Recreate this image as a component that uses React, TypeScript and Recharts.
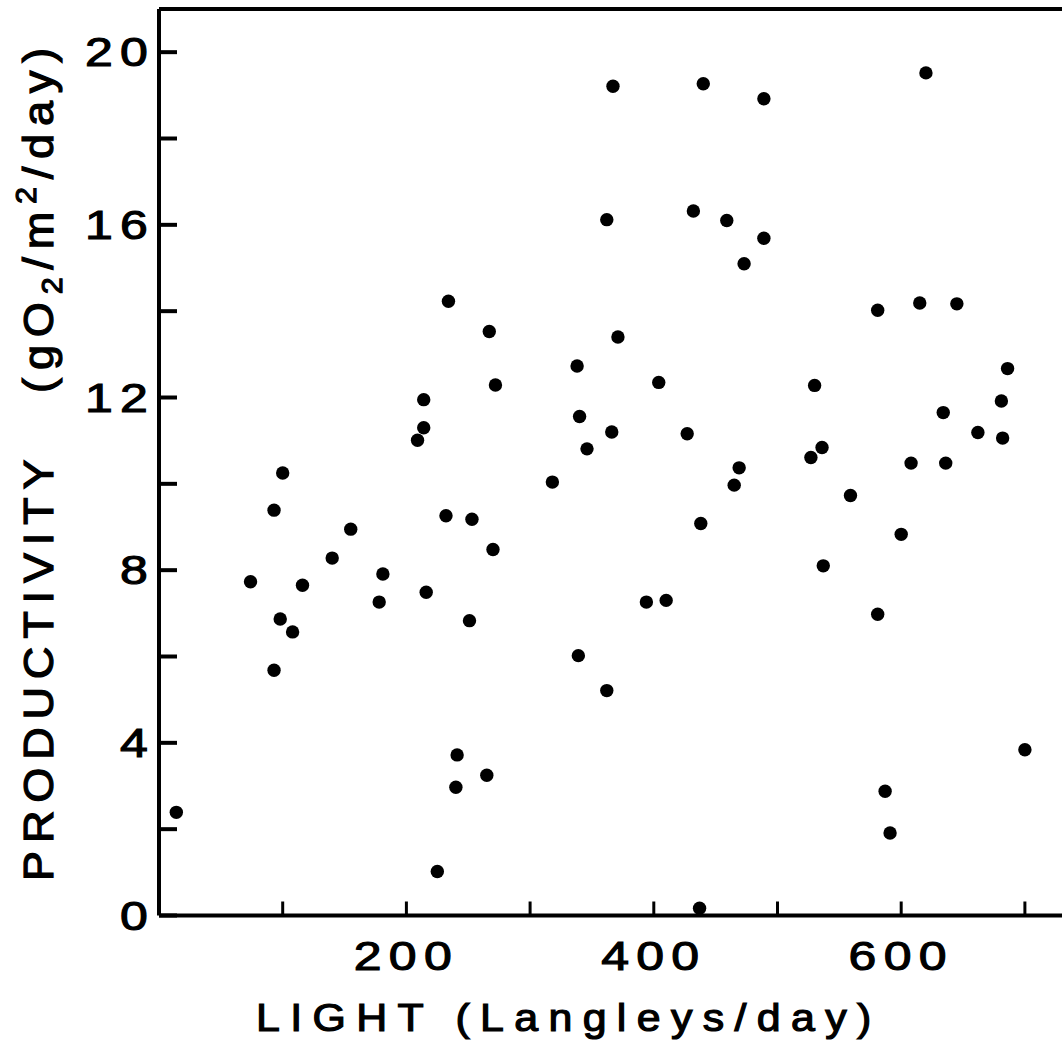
import React from 'react';
import { ScatterChart, Scatter, XAxis, YAxis, ReferenceLine } from 'recharts';

const lightValues = [
  14, 74, 93, 93, 98, 100, 108, 116, 140, 155, 178, 181, 209, 214, 214, 216, 225, 232,
  234, 240, 241, 251, 253, 265, 267, 270, 272, 318, 338, 339, 340, 346, 362, 362, 366, 367,
  371, 394, 404, 410, 427, 432, 437, 438, 440, 459, 465, 469, 473, 489, 489, 527, 530, 536,
  537, 559, 581, 581, 587, 591, 600, 608, 615, 620, 634, 636, 645, 662, 681, 682, 686, 700,
];
const productivityValues = [
  2.39, 7.73, 9.39, 5.68, 6.87, 10.25, 6.57, 7.65, 8.28, 8.95, 7.26, 7.91, 11.01, 11.3, 11.95, 7.49, 1.02, 9.26,
  14.23, 2.97, 3.72, 6.83, 9.18, 3.25, 13.53, 8.48, 12.29, 10.04, 12.73, 6.02, 11.56, 10.81, 16.12, 5.21, 11.2, 19.21,
  13.4, 7.26, 12.35, 7.3, 11.16, 16.32, 0.17, 9.08, 19.27, 16.1, 9.97, 10.37, 15.1, 18.92, 15.69, 10.61, 12.28, 10.84,
  8.1, 9.73, 14.02, 6.98, 2.88, 1.91, 8.83, 10.48, 14.19, 19.52, 11.65, 10.48, 14.17, 11.19, 11.92, 11.06, 12.67, 3.84,
];
const xTicks = [100, 200, 300, 400, 500, 600, 700];
const xLabelTicks = [200, 400, 600];
const yTicks = [0, 2, 4, 6, 8, 10, 12, 14, 16, 18, 20];
const yLabelTicks = [0, 4, 8, 12, 16, 20];
const xTitle = 'LIGHT (Langleys/day)';

const data = lightValues.map((x, i) => ({ x, y: productivityValues[i] }));

const FONT = '"Liberation Sans", Arial, Helvetica, sans-serif';

const YTick = (props: any) => {
  const { x, y, payload } = props;
  const v = payload.value;
  return (
    <g>
      <line x1={x} y1={y} x2={x + 18} y2={y} stroke="#000" strokeWidth={4} />
      {yLabelTicks.includes(v) && (
        <text
          x={0}
          y={0}
          transform={`translate(${x - 4}, ${y + 14.3}) scale(1.25, 1)`}
          textAnchor="end"
          fontFamily={FONT}
          fontSize={40}
          letterSpacing={5.8}
          fill="#000"
          stroke="#000"
          strokeWidth={1.1}
        >
          {v}
        </text>
      )}
    </g>
  );
};

const XTick = (props: any) => {
  const { x, y, payload } = props;
  const v = payload.value;
  return (
    <g>
      <line x1={x} y1={y} x2={x} y2={y - 14} stroke="#000" strokeWidth={3} />
      {xLabelTicks.includes(v) && (
        <text
          x={0}
          y={0}
          transform={`translate(${x}, ${y + 54}) scale(1.25, 1)`}
          textAnchor="middle"
          fontFamily={FONT}
          fontSize={40}
          letterSpacing={5.8}
          fill="#000"
          stroke="#000"
          strokeWidth={1.1}
        >
          {v}
        </text>
      )}
    </g>
  );
};

const XTitle = () => (
  <text
    x={0}
    y={0}
    transform="translate(256, 1031) scale(1.1, 1)"
    textAnchor="start"
    fontFamily={FONT}
    fontSize={39}
    letterSpacing={9.4}
    fill="#000"
    stroke="#000"
    strokeWidth={1.2}
  >
    {xTitle}
  </text>
);

const YTitle = () => (
  <text
    x={0}
    y={0}
    transform="translate(53, 881) rotate(-90) scale(1.05, 1)"
    textAnchor="start"
    fontFamily={FONT}
    fontSize={43}
    letterSpacing={7.4}
    fill="#000"
    stroke="#000"
    strokeWidth={1.2}
  >
    PRODUCTIVITY
    <tspan dx={56}>(gO</tspan>
    <tspan dy={9} fontSize={29}>2</tspan>
    <tspan dy={-9}>/m</tspan>
    <tspan dy={-17} fontSize={29}>2</tspan>
    <tspan dy={17}>/day)</tspan>
  </text>
);

const Dot = (props: any) => {
  const { cx, cy } = props;
  return <circle cx={cx} cy={cy} r={6.7} fill="#000" />;
};

export default function App() {
  return (
    <div style={{ position: 'absolute', left: 0, top: 0, width: 1062, height: 1048, background: '#fff' }}>
      <ScatterChart width={1062} height={1048} margin={{ top: 9, right: 0, left: 0, bottom: 0 }}>
        <XAxis
          type="number"
          dataKey="x"
          domain={[0, 730]}
          ticks={xTicks}
          interval={0}
          allowDataOverflow
          height={132.5}
          tickSize={0}
          tickMargin={0}
          tickLine={false}
          axisLine={{ stroke: '#000', strokeWidth: 4 }}
          tick={(p: any) => <XTick {...p} />}
          label={<XTitle />}
        />
        <YAxis
          type="number"
          dataKey="y"
          domain={[0, 21]}
          ticks={yTicks}
          interval={0}
          allowDataOverflow
          width={159}
          tickSize={0}
          tickMargin={0}
          tickLine={false}
          axisLine={{ stroke: '#000', strokeWidth: 4 }}
          tick={(p: any) => <YTick {...p} />}
          label={<YTitle />}
        />
        <ReferenceLine y={21} stroke="#000" strokeWidth={4} ifOverflow="visible" />
        <Scatter data={data} fill="#000" shape={<Dot />} isAnimationActive={false} />
      </ScatterChart>
    </div>
  );
}
